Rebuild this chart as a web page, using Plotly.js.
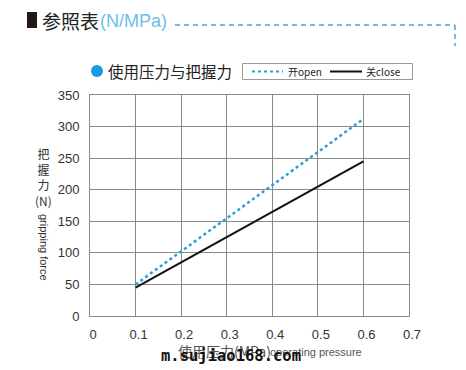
<!DOCTYPE html>
<html>
<head>
<meta charset="utf-8">
<script src="https://cdn.plot.ly/plotly-3.0.1.min.js"></script>
<style>html,body{margin:0;padding:0;background:#fff;}#chart{width:466px;height:370px;}</style>
</head>
<body>
<div id="chart"></div>
<script>
// Data
const pressure = [0.1, 0.6];
const openForce = [50, 312];
const closeForce = [45, 245];
const seriesNames = ["开open", "关close"];
const xTicks = [0, 0.1, 0.2, 0.3, 0.4, 0.5, 0.6, 0.7];
const yTicks = [0, 50, 100, 150, 200, 250, 300, 350];

// Plot area in pixels
const L = 90, R = 409, T = 95, B = 316, W = 466, H = 370;
const px = x => (x - L) / (R - L);
const py = y => (B - y) / (B - T);
const CJK = '"Noto Sans CJK SC", "Noto Sans", sans-serif';
const SANS = '"Liberation Sans", Arial, sans-serif';
const OPEN_COLOR = '#2a9fd6', CLOSE_COLOR = '#111';

const traces = [
  {x: pressure, y: openForce, name: seriesNames[0], mode: 'lines',
   line: {color: OPEN_COLOR, width: 2.5, dash: 'dot'}},
  {x: pressure, y: closeForce, name: seriesNames[1], mode: 'lines',
   line: {color: CLOSE_COLOR, width: 2}}
];

const layout = {
  width: W, height: H,
  margin: {l: L, r: W - R, t: T, b: H - B, pad: 0},
  paper_bgcolor: '#fff', plot_bgcolor: '#fff',
  showlegend: false,
  xaxis: {range: [0, 0.7], tickvals: xTicks, ticktext: xTicks.map(String),
    showgrid: true, gridcolor: '#8a8a8a', gridwidth: 1, zeroline: false,
    showline: true, linecolor: '#8a8a8a', linewidth: 1, mirror: true,
    ticks: '', ticklabelstandoff: 6, ticklabelshift: 3,
    tickfont: {family: SANS, size: 13, color: '#333'}, fixedrange: true},
  yaxis: {range: [0, 350], tickvals: yTicks, ticktext: yTicks.map(String),
    showgrid: true, gridcolor: '#8a8a8a', gridwidth: 1, zeroline: false,
    showline: true, linecolor: '#8a8a8a', linewidth: 1, mirror: true,
    ticks: '', ticklabelstandoff: 7,
    tickfont: {family: SANS, size: 13, color: '#333'}, fixedrange: true},
  shapes: [
    {type: 'rect', xref: 'paper', yref: 'paper', x0: px(27), x1: px(37), y0: py(12), y1: py(28),
     fillcolor: '#231815', line: {width: 0}},
    {type: 'line', xref: 'paper', yref: 'paper', x0: px(175), x1: px(455), y0: py(25), y1: py(25),
     line: {color: '#3aa8dc', width: 1.5, dash: '5px,4px'}},
    {type: 'line', xref: 'paper', yref: 'paper', x0: px(455), x1: px(455), y0: py(25), y1: py(46),
     line: {color: '#3aa8dc', width: 1.5, dash: '5px,4px'}},
    {type: 'circle', xref: 'paper', yref: 'paper', x0: px(91), x1: px(103), y0: py(65), y1: py(77),
     fillcolor: '#1a9be0', line: {width: 0}},
    // legend box
    {type: 'rect', xref: 'paper', yref: 'paper', x0: px(242.5), x1: px(412.5), y0: py(63.5), y1: py(79.5),
     fillcolor: '#fff', line: {color: '#999', width: 1}},
    {type: 'line', xref: 'paper', yref: 'paper', x0: px(252), x1: px(283), y0: py(71.5), y1: py(71.5),
     line: {color: OPEN_COLOR, width: 2, dash: 'dot'}},
    {type: 'line', xref: 'paper', yref: 'paper', x0: px(330), x1: px(362), y0: py(71.5), y1: py(71.5),
     line: {color: CLOSE_COLOR, width: 2}}
  ],
  annotations: [
    {text: '参照表', xref: 'paper', yref: 'paper', x: px(40), y: py(20), xanchor: 'left', yanchor: 'middle',
     showarrow: false, font: {family: CJK, size: 19, color: '#222'}},
    {text: '(N/MPa)', xref: 'paper', yref: 'paper', x: px(98), y: py(21), xanchor: 'left', yanchor: 'middle',
     showarrow: false, font: {family: SANS, size: 18, color: '#6cc0ea'}},
    {text: '使用压力与把握力', xref: 'paper', yref: 'paper', x: px(106), y: py(71), xanchor: 'left', yanchor: 'middle',
     showarrow: false, font: {family: CJK, size: 15.5, color: '#222'}},
    {text: seriesNames[0], xref: 'paper', yref: 'paper', x: px(286), y: py(71.5), xanchor: 'left', yanchor: 'middle',
     showarrow: false, font: {family: CJK, size: 10, color: '#222'}},
    {text: seriesNames[1], xref: 'paper', yref: 'paper', x: px(364), y: py(71.5), xanchor: 'left', yanchor: 'middle',
     showarrow: false, font: {family: CJK, size: 10, color: '#222'}},
    {text: '把<br>握<br>力<br>(N)', xref: 'paper', yref: 'paper', x: px(43), y: py(177), xanchor: 'center', yanchor: 'middle',
     showarrow: false, font: {family: CJK, size: 12, color: '#333'}},
    {text: 'gripping force', xref: 'paper', yref: 'paper', x: px(44), y: py(247), xanchor: 'center', yanchor: 'middle',
     textangle: 90, showarrow: false, font: {family: SANS, size: 11, color: '#333'}},
    {text: '使用压力(MPa)', xref: 'paper', yref: 'paper', x: px(176), y: py(351), xanchor: 'left', yanchor: 'middle',
     showarrow: false, font: {family: CJK, size: 14, color: '#555'}},
    {text: 'operating pressure', xref: 'paper', yref: 'paper', x: px(268), y: py(352), xanchor: 'left', yanchor: 'middle',
     showarrow: false, font: {family: SANS, size: 11, color: '#555'}},
    {text: '<b>m.sujiao168.com</b>', xref: 'paper', yref: 'paper', x: px(159), y: py(356), xanchor: 'left', yanchor: 'middle',
     showarrow: false, font: {family: '"DejaVu Sans Mono", monospace', size: 15.5, color: '#111'}}
  ]
};

Plotly.newPlot('chart', traces, layout, {staticPlot: true, displayModeBar: false});
</script>
</body>
</html>
